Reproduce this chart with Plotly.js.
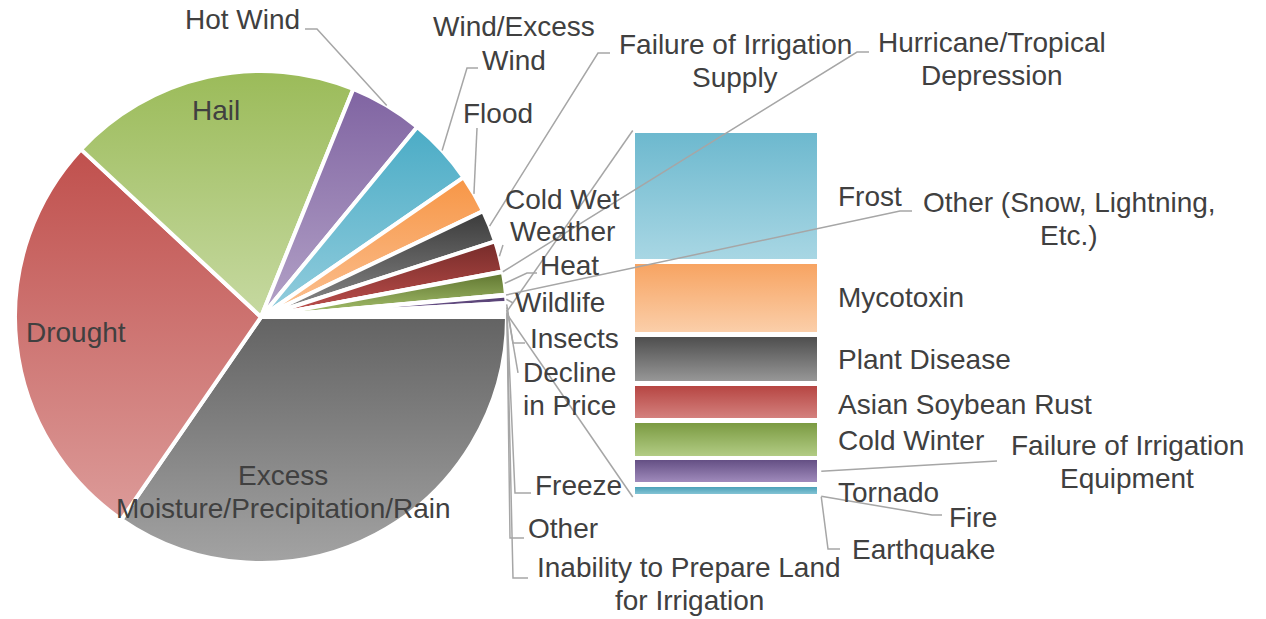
<!DOCTYPE html>
<html>
<head>
<meta charset="utf-8">
<script src="https://cdn.plot.ly/plotly-3.0.1.min.js"></script>
<style>
html,body{margin:0;padding:0;background:#ffffff;}
#chart{width:1266px;height:619px;}
</style>
</head>
<body>
<div id="chart"></div>
<script>
// ---------------- DATA ----------------
const pieLabels = [
  'Excess<br>Moisture/Precipitation/Rain', 'Drought', 'Hail', 'Hot Wind',
  'Wind/Excess<br>Wind', 'Flood', 'Failure of Irrigation<br>Supply',
  'Cold Wet<br>Weather', 'Hurricane/Tropical<br>Depression', 'Heat',
  'Other (Snow, Lightning,<br>Etc.)', 'Wildlife', 'Insects', 'Decline<br>in Price',
  'Freeze', 'Other', 'Inability to Prepare Land<br>for Irrigation'
];
const pieValues = [34.61, 27.33, 19.19, 4.83, 4.44, 2.53, 2.11, 2.00, 0.05, 1.47,
                   0.05, 0.50, 0.18, 0.18, 0.18, 0.18, 0.18];

const barCategory = ['Other'];
const barLabels = ['Frost', 'Mycotoxin', 'Plant Disease', 'Asian Soybean Rust',
  'Cold Winter', 'Failure of Irrigation<br>Equipment', 'Tornado', 'Fire', 'Earthquake'];
const barValues = [35.74, 19.92, 13.37, 10.10, 10.23, 7.23, 3.14, 0.14, 0.13];

// ---------------- STYLE ----------------
const W = 1266, H = 619;
const FONT = {family: '"Liberation Sans", Arial, sans-serif', size: 28, color: '#404040'};
const LINE_GAP = 33;
const LEADER = {color: '#a6a6a6', width: 1.5};

const pieTop = ['#636363','#c0504d','#9bbb59','#8064a2','#4bacc6','#f79646','#3a3a3a',
  '#762b29','#4d4d4d','#5f7530','#31859c','#4f3b6b','#31859c','#b65708','#7f7f7f','#8c8c8c','#7f7f7f'];
const pieBottom = ['#a3a3a3','#dc9b99','#c6d9a1','#b3a2c7','#93cddd','#fbc193','#8c8c8c',
  '#c0504d','#999999','#a9c46f','#93cddd','#8064a2','#93cddd','#fac090','#bfbfbf','#c0c0c0','#bfbfbf'];
const barTop = ['#6cb8ce','#f7a25f','#4a4a4a','#b4413e','#77973d','#5f4a7f','#3795ad','#d99694','#7f7f7f'];
const barBottom = ['#a9d7e4','#fbd0ac','#9b9b9b','#d68582','#b5cf88','#a691c2','#93cddd','#e6b9b8','#bfbfbf'];

// label placement (pixel centre of first line; lead = leader points from label side)
const piePlace = [
  {x: 283, y: 475},
  {x: 76, y: 333},
  {x: 216, y: 111},
  {x: 242, y: 20, lead: [[317, 29], [305, 29]]},
  {x: 514, y: 27, lead: [[467, 68], [478, 68]]},
  {x: 498, y: 113, lead: [[477, 128]]},
  {x: 735, y: 44, lead: [[598, 53], [610, 53]]},
  {x: 562, y: 199, lead: [[503, 245]]},
  {x: 992, y: 43, lead: [[857, 52], [869, 52]]},
  {x: 569, y: 265, lead: [[527, 273], [537, 273]]},
  {x: 1069, y: 202, lead: [[900, 211], [912, 211]]},
  {x: 560, y: 302, lead: [[513, 303]]},
  {x: 574, y: 338, lead: [[513, 343], [525, 343]]},
  {x: 569, y: 372, lead: [[518, 373]]},
  {x: 578, y: 485, lead: [[515, 493], [531, 493]]},
  {x: 563, y: 528, lead: [[510, 538], [524, 538]]},
  {x: 689, y: 567, lead: [[513, 578], [528, 578]]}
];
const barPlace = [
  {x: 836, y: 197, left: true},
  {x: 836, y: 298, left: true},
  {x: 836, y: 359, left: true},
  {x: 836, y: 404, left: true},
  {x: 836, y: 440, left: true},
  {x: 1127, y: 445, lead: [[997, 461]]},
  {x: 836, y: 492, left: true},
  {x: 973, y: 517, lead: [[932, 515], [942, 515]]},
  {x: 923, y: 549, lead: [[828, 549], [840, 549]]}
];

const px2x = px => px / W;
const py2y = py => 1 - py / H;

function makeAnnotations(labels, places) {
  const out = [];
  labels.forEach((lab, i) => {
    const p = places[i];
    lab.split('<br>').forEach((line, k) => {
      out.push({
        text: line, xref: 'paper', yref: 'paper',
        x: px2x(p.x), y: py2y(p.y + k * LINE_GAP),
        xanchor: p.left ? 'left' : 'center', yanchor: 'middle',
        showarrow: false, font: FONT
      });
    });
  });
  return out;
}

const barTotal = barValues.reduce((a, b) => a + b, 0);

const traces = [{
  type: 'pie', labels: pieLabels, values: pieValues, sort: false,
  direction: 'clockwise', rotation: 90, textinfo: 'none', hoverinfo: 'skip',
  showlegend: false,
  marker: {colors: pieTop, line: {color: '#ffffff', width: 4}},
  domain: {x: [15 / W, 507 / W], y: [1 - 563 / H, 1 - 71 / H]}
}];
barLabels.forEach((lab, i) => {
  traces.push({
    type: 'bar', name: lab, x: barCategory, y: [barValues[i]],
    xaxis: 'x', yaxis: 'y', hoverinfo: 'skip', showlegend: false,
    marker: {color: barTop[i], line: {color: '#ffffff', width: 4.5}}
  });
});

const layout = {
  width: W, height: H, margin: {l: 0, r: 0, t: 0, b: 0},
  paper_bgcolor: '#ffffff', plot_bgcolor: 'rgba(0,0,0,0)',
  barmode: 'stack', bargap: 0, showlegend: false,
  xaxis: {domain: [632.75 / W, 819.25 / W], range: [-0.5, 0.5], visible: false, type: 'category'},
  yaxis: {domain: [1 - 497 / H, 1 - 130.5 / H], range: [barTotal, 0], visible: false},
  annotations: makeAnnotations(pieLabels, piePlace).concat(makeAnnotations(barLabels, barPlace))
};

const gd = document.getElementById('chart');

function addGrad(defs, id, c1, c2) {
  const NS = 'http://www.w3.org/2000/svg';
  const g = document.createElementNS(NS, 'linearGradient');
  g.setAttribute('id', id);
  g.setAttribute('x1', '0'); g.setAttribute('y1', '0');
  g.setAttribute('x2', '0'); g.setAttribute('y2', '1');
  [[0, c1], [1, c2]].forEach(([o, c]) => {
    const s = document.createElementNS(NS, 'stop');
    s.setAttribute('offset', o);
    s.setAttribute('stop-color', c);
    g.appendChild(s);
  });
  defs.appendChild(g);
}

function applyGradients() {
  const NS = 'http://www.w3.org/2000/svg';
  const svg = gd.querySelector('svg.main-svg');
  let defs = svg.querySelector('defs');
  if (!defs) { defs = document.createElementNS(NS, 'defs'); svg.insertBefore(defs, svg.firstChild); }
  gd.querySelectorAll('.pielayer .slice path.surface').forEach((p, i) => {
    addGrad(defs, 'pg' + i, pieTop[i], pieBottom[i]);
    p.style.fill = 'url(#pg' + i + ')';
  });
  gd.querySelectorAll('.barlayer g.trace').forEach((t, i) => {
    addGrad(defs, 'bg' + i, barTop[i], barBottom[i]);
    t.querySelectorAll('path').forEach(p => { p.style.fill = 'url(#bg' + i + ')'; });
  });
}

Plotly.newPlot(gd, traces, layout, {staticPlot: true, displayModeBar: false}).then(() => {
  const fl = gd._fullLayout;
  const cd = gd.calcdata[0];
  const c0 = cd[0];
  const edge = (pt, key) => [c0.cx + pt[key][0], c0.cy + pt[key][1]];
  const shapes = [];
  const addPath = pts => shapes.push({
    type: 'path', xref: 'paper', yref: 'paper', layer: 'above',
    path: 'M' + pts.map(p => px2x(p[0]).toFixed(5) + ',' + py2y(p[1]).toFixed(5)).join('L'),
    line: LEADER
  });
  // pie leaders
  piePlace.forEach((p, i) => {
    if (!p.lead) return;
    addPath([edge(cd[i], 'pxmid')].concat(p.lead));
  });
  // bar leaders
  const xa = fl.xaxis, ya = fl.yaxis;
  const xRight = xa._offset + xa._length, xLeft = xa._offset;
  let cum = 0;
  barValues.forEach((v, i) => {
    const mid = ya._offset + ya.l2p(cum + v / 2);
    cum += v;
    const p = barPlace[i];
    if (p.lead) addPath([[xRight + 2, mid]].concat(p.lead));
  });
  // pie-of-bar connectors from the combined "Other" slice
  const oi = pieLabels.indexOf('Other');
  addPath([edge(cd[oi], 'px0'), [xLeft, ya._offset + ya.l2p(0)]]);
  addPath([edge(cd[oi], 'px1'), [xLeft, ya._offset + ya.l2p(barTotal)]]);
  return Plotly.relayout(gd, {shapes: shapes});
}).then(applyGradients);
</script>
</body>
</html>
